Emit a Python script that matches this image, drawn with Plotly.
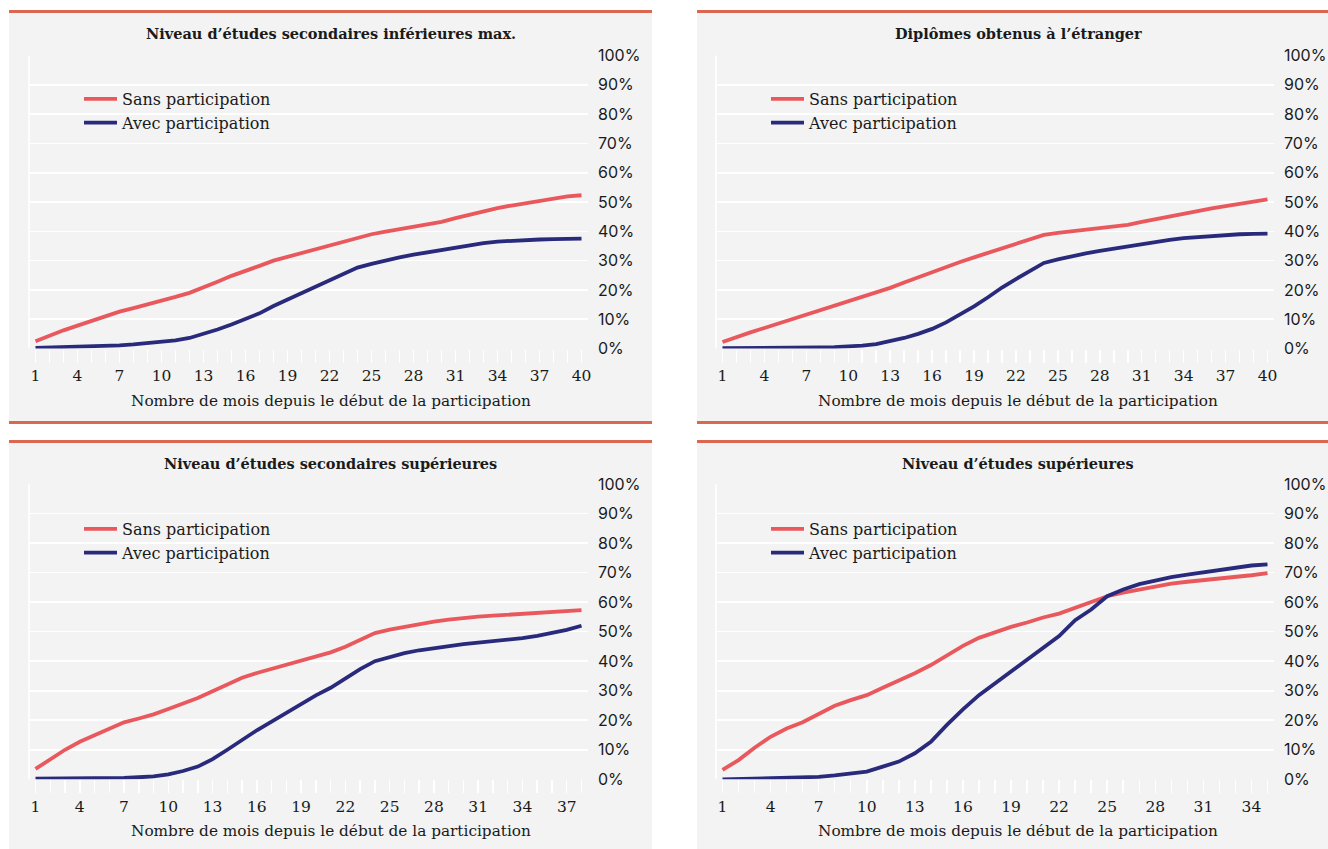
import plotly.graph_objects as go

# ---------------- data ----------------
panel_titles = [
    "Niveau d\u2019études secondaires inférieures max.",
    "Diplômes obtenus à l\u2019étranger",
    "Niveau d\u2019études secondaires supérieures",
    "Niveau d\u2019études supérieures",
]
series_names = ["Sans participation", "Avec participation"]
x_title = "Nombre de mois depuis le début de la participation"

tl_sans = [2.5, 4.5, 6.2, 7.8, 9.4, 11.0, 12.6, 13.8, 15.0, 16.3, 17.6, 19.0, 20.8, 22.8, 24.8,
           26.4, 28.2, 30.0, 31.3, 32.6, 33.9, 35.2, 36.6, 38.0, 39.0, 39.9, 40.8, 41.6, 42.4, 43.2,
           44.5, 45.7, 46.8, 47.9, 48.8, 49.6, 50.4, 51.2, 51.9, 52.3]
tl_avec = [0.2, 0.3, 0.4, 0.5, 0.7, 0.9, 1.1, 1.4, 1.8, 2.2, 2.8, 3.6, 4.9, 6.5, 8.2,
           10.0, 12.0, 14.5, 16.7, 18.9, 21.2, 23.5, 25.6, 27.6, 28.9, 30.1, 31.1, 32.0, 32.8, 33.6,
           34.5, 35.3, 36.0, 36.5, 36.8, 37.0, 37.2, 37.3, 37.4, 37.5]

tr_sans = [2.2, 4.0, 5.5, 7.0, 8.5, 10.0, 11.5, 13.0, 14.5, 16.0, 17.5, 19.0, 20.7, 22.5, 24.3,
           26.0, 27.7, 29.5, 31.1, 32.6, 34.1, 35.7, 37.3, 38.8, 39.5, 40.0, 40.5, 41.0, 41.6, 42.2,
           43.2, 44.2, 45.1, 46.0, 46.9, 47.8, 48.6, 49.4, 50.2, 50.9]
tr_avec = [0.1, 0.1, 0.1, 0.2, 0.2, 0.3, 0.3, 0.4, 0.5, 0.7, 1.0, 1.5, 2.4, 3.6, 5.0,
           6.7, 8.9, 11.6, 14.4, 17.5, 20.8, 23.7, 26.5, 29.2, 30.4, 31.5, 32.5, 33.3, 34.1, 34.8,
           35.6, 36.4, 37.1, 37.7, 38.1, 38.5, 38.8, 39.0, 39.1, 39.2]

bl_sans = [3.5, 6.8, 10.0, 12.7, 15.0, 17.2, 19.3, 20.6, 22.0, 23.8, 25.6, 27.5, 29.8, 32.2, 34.4,
           36.0, 37.4, 38.8, 40.2, 41.6, 43.0, 44.9, 47.2, 49.5, 50.7, 51.7, 52.6, 53.4, 54.1, 54.7,
           55.1, 55.4, 55.7, 56.0, 56.3, 56.6, 56.9, 57.3]
bl_avec = [0.2, 0.2, 0.2, 0.2, 0.3, 0.4, 0.5, 0.7, 1.0, 1.7, 2.8, 4.3, 6.8, 10.0, 13.4,
           16.6, 19.5, 22.5, 25.6, 28.4, 31.0, 34.2, 37.3, 40.0, 41.5, 42.7, 43.7, 44.5, 45.2, 45.8,
           46.3, 46.7, 47.2, 47.8, 48.6, 49.5, 50.6, 52.0]

br_sans = [3.2, 6.5, 10.7, 14.4, 17.2, 19.3, 22.1, 24.9, 26.8, 28.5, 31.0, 33.3, 35.9, 38.7, 42.0,
           45.2, 47.9, 49.8, 51.6, 53.1, 54.8, 56.1, 58.1, 59.8, 62.0, 63.2, 64.3, 65.4, 66.3, 66.9,
           67.4, 68.0, 68.5, 69.1, 69.8]
br_avec = [0.0, 0.1, 0.2, 0.3, 0.4, 0.6, 0.8, 1.3, 1.8, 2.6, 4.3, 6.0, 8.8, 12.7, 18.4,
           23.7, 28.5, 32.5, 36.4, 40.4, 44.6, 48.5, 53.9, 57.5, 62.0, 64.3, 66.1, 67.4, 68.5, 69.3,
           70.1, 71.0, 71.7, 72.4, 72.8]

panels = [(tl_sans, tl_avec), (tr_sans, tr_avec), (bl_sans, bl_avec), (br_sans, br_avec)]
y_ticks = list(range(0, 101, 10))
y_labels = [f"{v}%" for v in y_ticks]

# ---------------- style ----------------
W, H = 1328, 849
RED = "#E9585D"
NAVY = "#2A2A7C"
ORANGE = "#DD6650"
BG = "#F2F3F2"
TXT = "#1A1A1A"
SERIF = "DejaVu Serif"
SANS = "Inter"

# panel boxes in screen pixels (left, top, right, bottom)
panel_px = [(9, 13, 652, 421), (697, 13, 1340, 421), (9, 443, 652, 849), (697, 443, 1340, 849)]
title_cx = [330.5, 1018, 330.5, 1018]
# plot areas in screen pixels
plot_px = [(29, 55.5, 588, 348.5), (716, 55.5, 1274, 348.5),
           (29, 484, 588, 779.3), (716, 484, 1274, 779.3)]
legend_px = [(79, 82), (766, 82), (79, 512), (766, 512)]


def px_x(v):
    return v / W


def px_y(v):
    return 1 - v / H


fig = go.Figure()
layout = dict(
    width=W, height=H,
    margin=dict(l=0, r=0, t=0, b=0, autoexpand=False),
    paper_bgcolor="white",
    plot_bgcolor="rgba(0,0,0,0)",
    shapes=[], annotations=[],
    hovermode=False,
)

for i, ((sans, avec), (pl, pt, pr, pb)) in enumerate(zip(panels, plot_px)):
    n = len(sans)
    months = list(range(1, n + 1))
    sfx = "" if i == 0 else str(i + 1)
    leg = "legend" + sfx
    k = (pr - pl - 13) / (n - 1)
    pad = 6.5 / k
    for name, vals, col in [(series_names[0], sans, RED), (series_names[1], avec, NAVY)]:
        fig.add_trace(go.Scatter(
            x=months, y=vals, name=name, mode="lines",
            line=dict(color=col, width=3.8),
            xaxis="x" + sfx, yaxis="y" + sfx, legend=leg,
            hoverinfo="skip",
        ))
    layout["xaxis" + sfx] = dict(
        domain=[px_x(pl), px_x(pr)], anchor="y" + sfx, automargin=False,
        range=[1 - pad, n + pad],
        tick0=1, dtick=3, ticks="outside", ticklen=13, tickwidth=1.5, tickcolor="white",
        minor=dict(dtick=1, tick0=1, ticks="outside", ticklen=13, tickwidth=1.5,
                   tickcolor="white", showgrid=False),
        showgrid=False, zeroline=False, showline=False,
        tickfont=dict(family=SERIF, size=15.5, color=TXT),
    )
    layout["yaxis" + sfx] = dict(
        domain=[px_y(pb), px_y(pt)], anchor="x" + sfx, side="right", automargin=False,
        range=[0, 100], tickmode="array", tickvals=y_ticks, ticktext=y_labels,
        showgrid=True, gridcolor="white", gridwidth=1.6,
        zeroline=False, showline=False, ticks="",
        ticklabelstandoff=9,
        tickfont=dict(family=SANS, size=16, color=TXT),
    )
    lx, ly = legend_px[i]
    layout[leg] = dict(
        x=px_x(lx), y=px_y(ly), xanchor="left", yanchor="top",
        bgcolor="rgba(0,0,0,0)", borderwidth=0,
        font=dict(family=SERIF, size=16, color=TXT),
        tracegroupgap=0, itemclick=False, itemwidth=33,
    )

    # panel decorations
    l, t, r, b = panel_px[i]
    layout["shapes"].append(dict(type="rect", xref="paper", yref="paper",
                                 x0=px_x(l), x1=px_x(r), y0=px_y(b), y1=px_y(t),
                                 fillcolor=BG, line=dict(width=0), layer="below"))
    layout["shapes"].append(dict(type="rect", xref="paper", yref="paper",
                                 x0=px_x(l), x1=px_x(r), y0=px_y(t), y1=px_y(t - 3),
                                 fillcolor=ORANGE, line=dict(width=0), layer="below"))
    if i < 2:
        layout["shapes"].append(dict(type="rect", xref="paper", yref="paper",
                                     x0=px_x(l), x1=px_x(r), y0=px_y(b + 3), y1=px_y(b),
                                     fillcolor=ORANGE, line=dict(width=0), layer="below"))
    layout["shapes"].append(dict(type="line", xref="x" + sfx + " domain", yref="y" + sfx + " domain",
                                 x0=0, x1=0, y0=0, y1=1,
                                 line=dict(color="white", width=1.6), layer="below"))
    cx = title_cx[i]
    layout["annotations"].append(dict(
        text="<b>" + panel_titles[i] + "</b>", x=px_x(cx), y=px_y(t + 20),
        xref="paper", yref="paper", xanchor="center", yanchor="middle", showarrow=False,
        font=dict(family=SERIF, size=14.5, color=TXT)))
    layout["annotations"].append(dict(
        text=x_title, x=px_x(cx), y=px_y(pb + 52),
        xref="paper", yref="paper", xanchor="center", yanchor="middle", showarrow=False,
        font=dict(family=SERIF, size=15.3, color=TXT)))

fig.update_layout(**layout)
fig.write_html("out.html", config={"displayModeBar": False, "staticPlot": True},
               post_script="document.body.style.margin='0';document.body.style.overflow='hidden';")
